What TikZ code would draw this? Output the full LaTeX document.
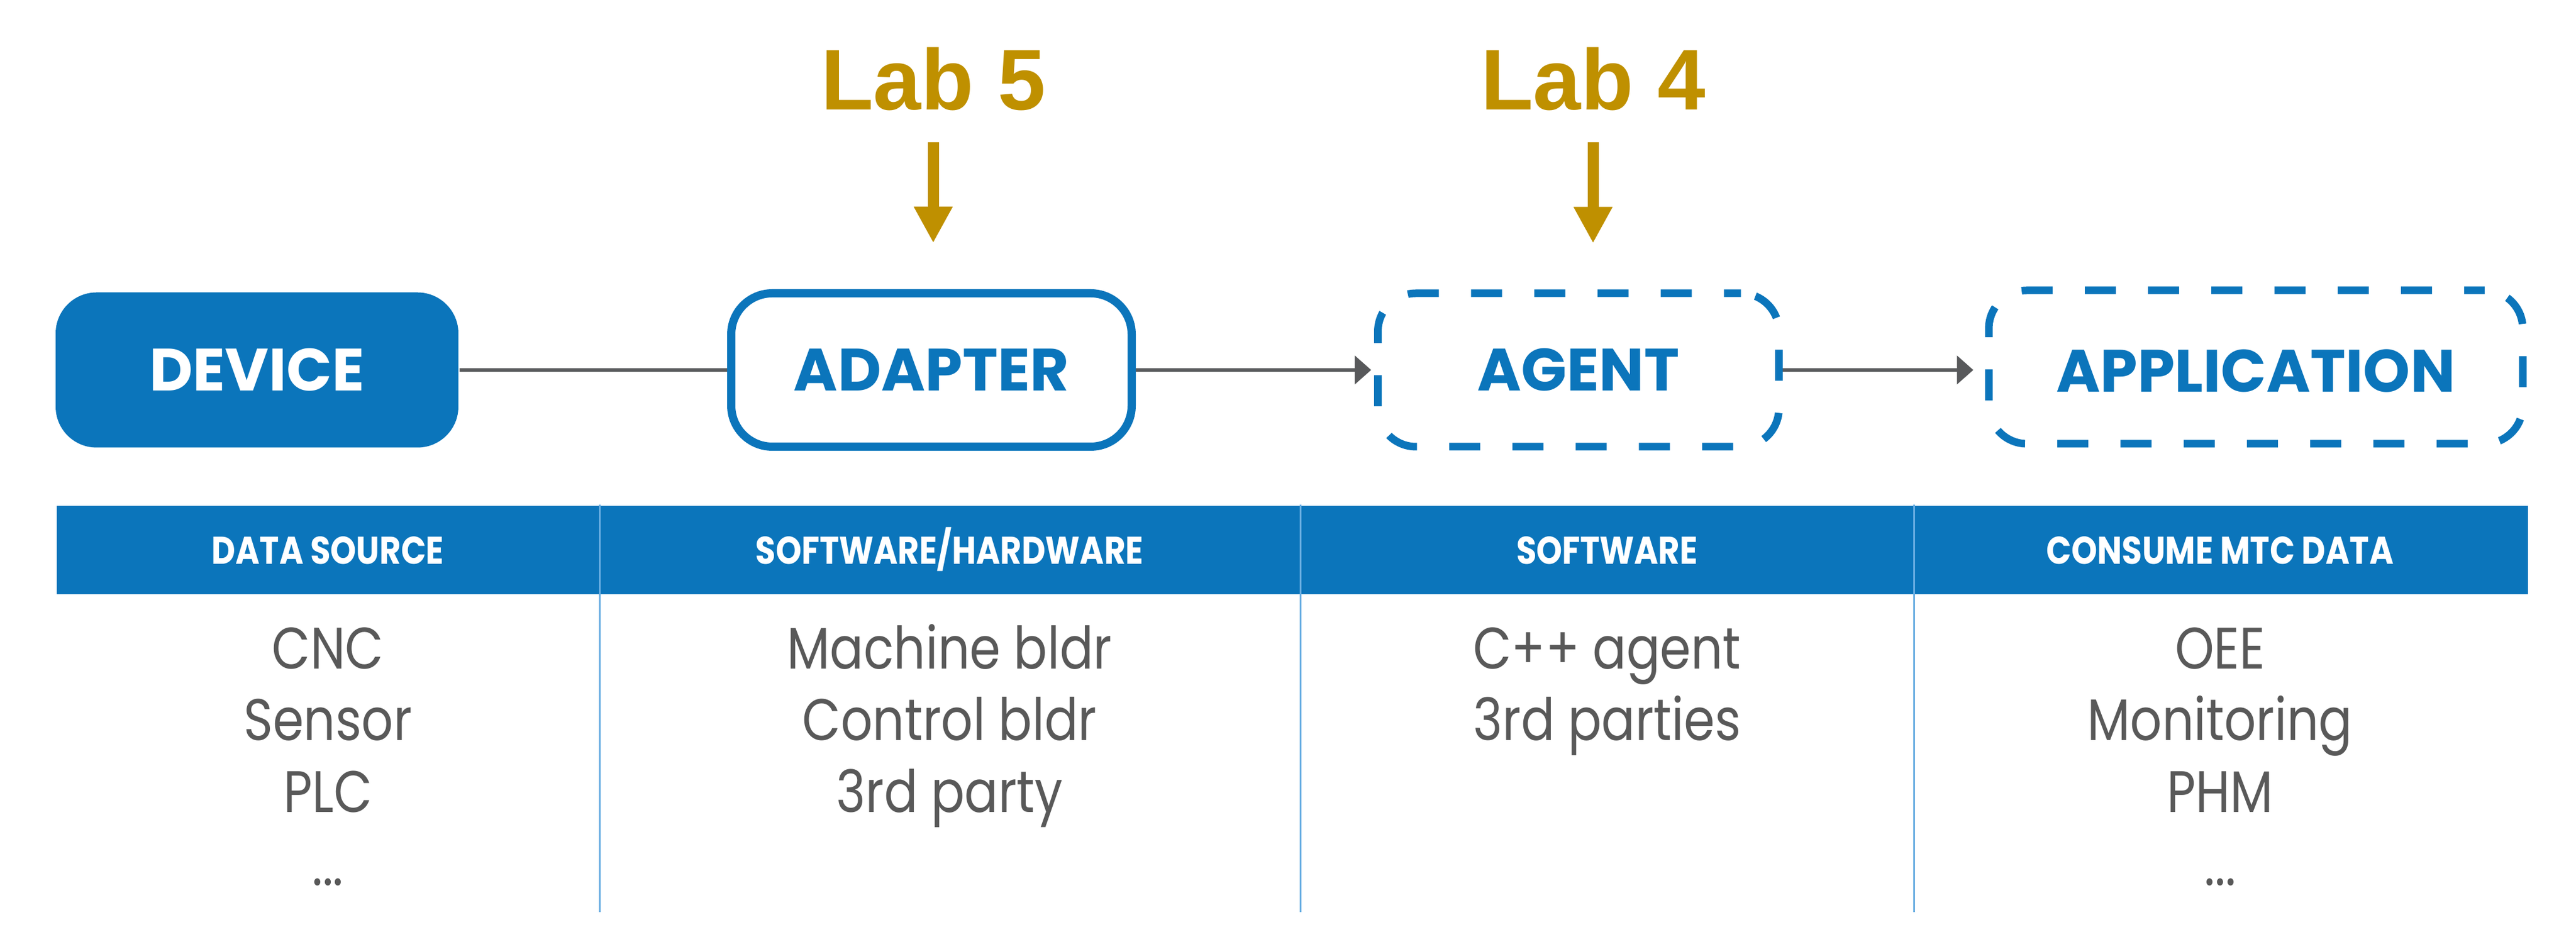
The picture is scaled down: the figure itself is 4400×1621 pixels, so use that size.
\documentclass[tikz,border=0pt]{standalone}
\usepackage{fontspec}
\usetikzlibrary{arrows.meta}
\newfontfamily\labfont{Liberation Sans}
\newfontfamily\boxfont{Poppins}
\newfontfamily\headfont{Poppins}[FakeStretch=0.85]
\newfontfamily\bodyfont{Poppins}[FakeStretch=0.85]
\definecolor{mtcblue}{HTML}{0B75BB}
\definecolor{labgold}{HTML}{BF9000}
\definecolor{linegray}{HTML}{58595B}
\definecolor{textgray}{HTML}{595959}
\definecolor{seplight}{HTML}{6AAEE2}
\tikzset{
  labtext/.style={text=labgold, inner sep=0, anchor=base, font=\labfont\bfseries\fontsize{14.7pt}{16pt}\selectfont},
  labarrow/.style={draw=labgold, line width=1.9pt, -{Triangle[length=6.2pt,width=6.2pt]}},
  boxlabel/.style={inner sep=0, font=\boxfont\bfseries\fontsize{10.2pt}{12pt}\selectfont},
  solidbox/.style={boxlabel, fill=mtcblue, text=white, rounded corners=7pt, minimum width=68.8pt, minimum height=26.5pt},
  outlinebox/.style={boxlabel, draw=mtcblue, fill=white, text=mtcblue, line width=1.4pt, rounded corners=7pt, minimum width=68.4pt, minimum height=26.2pt},
  dashbox/.style={boxlabel, draw=mtcblue, text=mtcblue, line width=1.3pt, rounded corners=6.5pt, dash pattern=on 5.3pt off 5.5pt, minimum height=26.2pt},
  conn/.style={draw=linegray, line width=0.6pt},
  connarrow/.style={conn, -{Triangle[length=2.8pt,width=4.8pt]}},
  headtext/.style={text=white, inner sep=0, anchor=base, font=\headfont\bfseries\fontsize{6.6pt}{8pt}\selectfont},
  bodytext/.style={text=textgray, inner sep=0, anchor=base, font=\bodyfont\fontsize{10pt}{12pt}\selectfont},
  sepline/.style={draw=seplight, line width=0.3pt}
}
\begin{document}
\begin{tikzpicture}[x=0.1pt,y=-0.1pt]
\useasboundingbox (0,0) rectangle (4400,1621);
% top row
\node[solidbox] (device) at (439,632) {DEVICE};
\node[outlinebox] (adapter) at (1591,632) {ADAPTER};
\node[dashbox, minimum width=68.5pt, dash phase=2.4pt] (agent) at (2696,632) {AGENT};
\node[dashbox, minimum width=91.2pt, dash phase=1.8pt, text height=8.5pt, text depth=0pt] (app) at (3853,627) {APPLICATION};
\draw[conn] (device.east) -- (adapter.west);
\draw[connarrow, shorten >=0.5pt] (adapter.east) -- (agent.west);
\draw[connarrow, shorten >=2pt] (agent.east) -- (agent.east -| app.west);
% lab labels
\node[labtext] (lab5) at (1594,188) {Lab 5};
\node[labtext] (lab4) at (2721,188) {Lab 4};
\draw[labarrow, shorten <=5.2pt, shorten >=7.9pt] (lab5.south) -- (lab5.south |- adapter.north);
\draw[labarrow, shorten <=5.2pt, shorten >=7.9pt] (lab4.south) -- (lab4.south |- agent.north);
% table header
\node[fill=mtcblue, inner sep=0, minimum width=422.1pt, minimum height=15.1pt, anchor=north west] (header) at (95,862) {};
\coordinate (s1) at (1024,862);
\coordinate (s2) at (2221,862);
\coordinate (s3) at (3269,862);
\draw[sepline] (s1) -- ++(0,696);
\draw[sepline] (s2) -- ++(0,696);
\draw[sepline] (s3) -- ++(0,696);
\node[headtext] (h1) at (560,964) {DATA SOURCE};
\node[headtext] (h2) at (1622,964) {SOFTWARE/HARDWARE};
\node[headtext] (h3) at (2745,964) {SOFTWARE};
\node[headtext] (h4) at (3792,964) {CONSUME MTC DATA};
% body
\node[bodytext] (c1a) at (560,1143) {CNC};
\node[bodytext] (c1b) at (560,1265) {Sensor};
\node[bodytext] (c1c) at (560,1388) {PLC};
\node[bodytext] (c1d) at (560,1513) {...};
\node[bodytext] (c2a) at (1622,1143) {Machine bldr};
\node[bodytext] (c2b) at (1622,1265) {Control bldr};
\node[bodytext] (c2c) at (1622,1388) {3rd party};
\node[bodytext] (c3a) at (2745,1143) {C++ agent};
\node[bodytext] (c3b) at (2745,1265) {3rd parties};
\node[bodytext] (c4a) at (3792,1143) {OEE};
\node[bodytext] (c4b) at (3792,1265) {Monitoring};
\node[bodytext] (c4c) at (3792,1388) {PHM};
\node[bodytext] (c4d) at (3792,1513) {...};
\end{tikzpicture}
\end{document}
